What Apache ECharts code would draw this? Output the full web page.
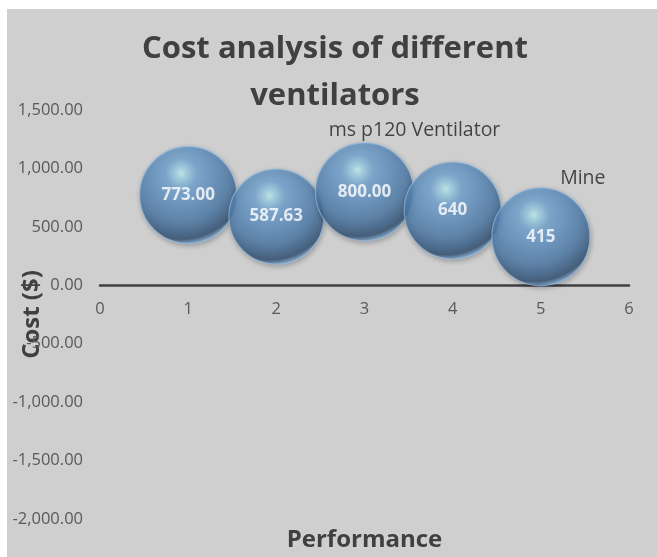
<!DOCTYPE html>
<html>
<head>
<meta charset="utf-8">
<script src="https://cdn.jsdelivr.net/npm/echarts@6/dist/echarts.min.js"></script>
<style>
  html, body { margin: 0; padding: 0; background: #ffffff; }
  #chart { position: absolute; left: 7px; top: 9px; width: 650px; height: 548px; }
</style>
</head>
<body>
<div id="chart"></div>
<script>
// Ventilator cost data: performance rank (x), cost in dollars (y), bubble size
const performance = [1, 2, 3, 4, 5];
const costs = [773.00, 587.63, 800.00, 640, 415];
const bubbleSizes = [97, 95, 98, 97, 98];
const valueLabels = ['773.00', '587.63', '800.00', '640', '415'];
const notes = ['', '', 'ms p120 Ventilator', '', 'Mine'];
const xTicks = [0, 1, 2, 3, 4, 5, 6];
const yTicks = [-2000, -1500, -1000, -500, 0, 500, 1000, 1500];

const chart = echarts.init(document.getElementById('chart'));

const sphere = {
  type: 'radial', x: 0.43, y: 0.28, r: 0.72,
  colorStops: [
    { offset: 0, color: '#c6f6f2' },
    { offset: 0.07, color: '#a4d8ec' },
    { offset: 0.22, color: '#74a6d4' },
    { offset: 0.48, color: '#5e8fc0' },
    { offset: 0.68, color: '#4e7cab' },
    { offset: 0.83, color: '#3b628b' },
    { offset: 0.93, color: '#2f4e70' },
    { offset: 1, color: '#7ba7d0' }
  ]
};

const fmt = v => (v < 0 ? '-' : '') + Math.abs(v).toLocaleString('en-US', { minimumFractionDigits: 2, maximumFractionDigits: 2 });

// note text centre relative to its bubble centre, in px
const noteShift = { 2: [50, -61], 4: [42, -58] };

const points = performance.map((x, i) => [x, costs[i], bubbleSizes[i]]);

chart.setOption({
  backgroundColor: '#d0cfd0',
  animation: false,
  title: {
    text: 'Cost analysis of different\nventilators',
    left: 328, top: 17, padding: 0,
    textAlign: 'center',
    textStyle: {
      fontFamily: 'Open Sans', fontWeight: 'bold', fontSize: 31,
      lineHeight: 47, color: '#404040'
    }
  },
  grid: { left: 93, right: 28, top: 101, bottom: 38, containLabel: false, outerBoundsMode: 'none' },
  xAxis: {
    type: 'value', min: xTicks[0], max: xTicks[xTicks.length - 1], interval: 1,
    name: 'Performance', nameLocation: 'middle', nameGap: 243, nameMoveOverlap: false,
    nameTextStyle: { fontFamily: 'Open Sans', fontWeight: 'bold', fontSize: 24, color: '#404040' },
    axisLine: { onZero: false, lineStyle: { color: '#404040', width: 2.5 } },
    axisTick: { show: false },
    splitLine: { show: false },
    axisLabel: { margin: 16, fontFamily: 'Open Sans', fontSize: 16.5, color: '#595959' }
  },
  yAxis: {
    type: 'value', min: yTicks[0], max: yTicks[yTicks.length - 1], interval: 500,
    name: 'Cost ($)', nameLocation: 'middle', nameRotate: 90, nameGap: 56, nameMoveOverlap: false,
    nameTextStyle: { fontFamily: 'Open Sans', fontWeight: 'bold', fontSize: 24, color: '#404040' },
    axisLine: { show: false },
    axisTick: { show: false },
    splitLine: { show: false },
    axisLabel: { margin: 17, fontFamily: 'Open Sans', fontSize: 16.5, color: '#595959', formatter: fmt }
  },
  series: [
    {
      type: 'scatter',
      data: points,
      symbolSize: d => d[2],
      itemStyle: {
        color: sphere,
        borderColor: 'rgba(150,192,228,0.8)', borderWidth: 1.2,
        shadowColor: 'rgba(0,0,0,0.3)', shadowBlur: 5, shadowOffsetX: 1, shadowOffsetY: 2
      },
      label: {
        show: true, position: 'inside',
        formatter: p => valueLabels[p.dataIndex],
        fontFamily: 'Open Sans', fontWeight: 'bold', fontSize: 17, color: '#ffffff'
      },
      z: 3
    },
    {
      type: 'scatter',
      silent: true,
      data: points.map((p, i) => {
        if (!notes[i]) return { value: p, label: { show: false } };
        const half = p[2] / 2;
        return {
          value: p,
          label: {
            show: true, formatter: notes[i],
            position: [half + noteShift[i][0], half + noteShift[i][1]],
            align: 'center', verticalAlign: 'middle'
          }
        };
      }),
      symbolSize: d => d[2],
      itemStyle: { color: 'rgba(0,0,0,0)' },
      label: { fontFamily: 'Open Sans', fontSize: 19.5, color: '#1e1e1e' },
      labelLayout: { hideOverlap: false },
      z: 4
    }
  ]
});

// Put the horizontal axis (line, labels and name) on the zero cost level
const zeroY = chart.convertToPixel({ yAxisIndex: 0 }, 0);
const bottomY = chart.convertToPixel({ yAxisIndex: 0 }, yTicks[0]);
chart.setOption({ xAxis: { offset: zeroY - bottomY } });
</script>
</body>
</html>
